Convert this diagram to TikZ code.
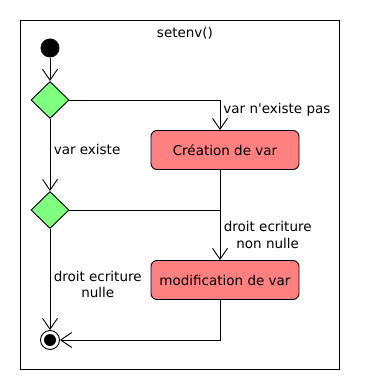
\documentclass[tikz,border=0pt]{standalone}
\usepackage{fontspec}
\setmainfont{DejaVu Sans}
\usetikzlibrary{shapes.geometric, arrows.meta, positioning}
\definecolor{actionred}{RGB}{255,128,128}
\definecolor{choicegreen}{RGB}{128,255,128}
\tikzstyle{action} = [rectangle, rounded corners=6pt, minimum width=148pt, minimum height=39pt, text centered, draw=black, fill=actionred]
\tikzstyle{decision} = [diamond, minimum width=38pt, minimum height=37pt, inner sep=0pt, draw=black, fill=choicegreen]
\tikzstyle{initial} = [circle, minimum size=19pt, inner sep=0pt, fill=black]
\tikzstyle{final} = [circle, minimum size=19pt, inner sep=0pt, draw=black, fill=white, path picture={\fill[black] (path picture bounding box.center) circle (6pt);}]
\tikzstyle{flow} = [-{Straight Barb[length=11pt,width=15pt]}]

\begin{document}
\begin{tikzpicture}[x=1pt, y=-1pt, line width=0.9pt, font=\fontsize{13.5}{16.5}\selectfont]
    \useasboundingbox (0,0) rectangle (370,390);
    % Frame
    \node[draw=black, rectangle, minimum width=319pt, minimum height=349pt, inner sep=0pt, anchor=north west] (frame) at (20,20) {};
    \node (title) at (185,33) {setenv()};

    % Start, choices, end
    \node[initial] (start) at (50,48) {};
    \node[decision] (exists) at (50,100) {};
    \node[decision] (rights) at (50,210) {};
    \node[final] (end) at (50,340) {};

    % Actions
    \node[action] (create) at (225,150) {Création de var};
    \node[action] (modify) at (225,280) {modification de var};
    \coordinate (merge) at (220,210);

    % Flows
    \draw[flow] (start) -- (exists);
    \draw[flow] (exists) -| node[pos=0.5, anchor=north west, inner sep=3pt] {var n\textquotesingle existe pas} ([xshift=-5pt]create.north);
    \draw[flow] (exists) -- node[pos=0.42, right] {var existe} (rights);
    \draw ([xshift=-5pt]create.south) -- (merge);
    \draw (rights) -- (merge);
    \draw[flow] (merge) -- node[right, align=center] {droit ecriture\\non nulle} ([xshift=-5pt]modify.north);
    \draw[flow] (rights) -- node[pos=0.55, right, align=center] {droit ecriture\\nulle} (end);
    \draw[flow] ([xshift=-5pt]modify.south) |- (end);

\end{tikzpicture}
\end{document}
